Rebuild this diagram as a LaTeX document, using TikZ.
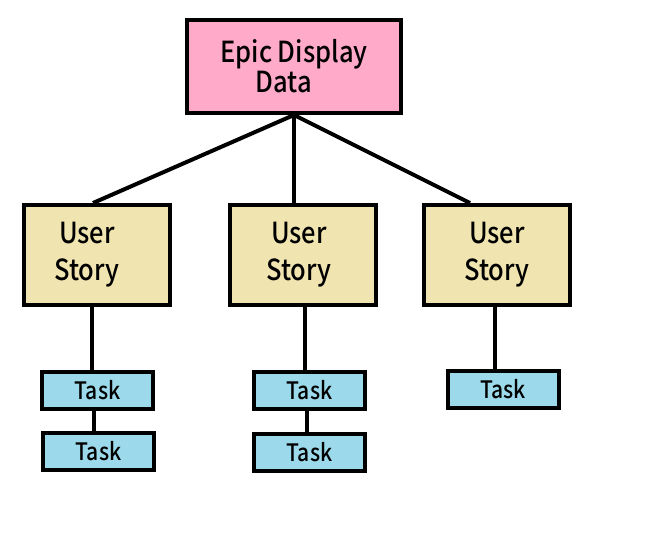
\documentclass[tikz,border=0pt]{standalone}
\usepackage{fontspec}
\usepackage{tikz}
\usetikzlibrary{positioning}
\newfontfamily\gothic[FakeStretch=0.88,UprightFont={* Medium}]{Noto Sans CJK JP}
\definecolor{epicpink}{RGB}{255,170,200}
\definecolor{storywheat}{RGB}{240,228,176}
\definecolor{taskblue}{RGB}{156,218,235}
\tikzset{
  x=1pt,y=-1pt,
  box/.style={draw,line width=4pt,shape=rectangle,inner sep=0,align=center,text=black},
  epic/.style={box,fill=epicpink,minimum width=214pt,minimum height=93pt,font=\gothic\fontsize{29}{30}\selectfont},
  story/.style={box,fill=storywheat,minimum width=146pt,minimum height=100pt,font=\gothic\fontsize{29}{37}\selectfont},
  task/.style={box,fill=taskblue,minimum width=111pt,minimum height=37pt,font=\gothic\fontsize{24}{26}\selectfont},
  link/.style={draw,line width=4pt}
}
\begin{document}
\begin{tikzpicture}
    \useasboundingbox (0,0) rectangle (647,538);
    \node (epic) [epic] at (294,66.5) {Epic Display\\\hspace*{-20pt}Data};

    \node (story1) [story] at (97,255) {\hspace*{-20pt}User\\\hspace*{-20pt}Story};
    \node (story2) [story] at (303,255) {\hspace*{-8pt}User\\\hspace*{-8pt}Story};
    \node (story3) [story] at (497,255) {User\\Story};

    \node (task1a) [task] at (97.5,390) {Task};
    \node (task1b) [task] at (98.5,451) {Task};
    \node (task2a) [task] at (309.5,390.5) {Task};
    \node (task2b) [task] at (309.5,452) {Task};
    \node (task3) [task] at (503,389) {Task};

    \path [link] (epic.south) -- ([xshift=-4pt]story1.north);
    \path [link] (epic.south) -- (epic.south |- story2.north);
    \path [link] (epic.south) -- ([xshift=-27pt]story3.north);
    \path [link] ([xshift=-5pt]story1.south) -- ([xshift=-5pt]story1.south |- task1a.north);
    \path [link] ([xshift=2pt]story2.south) -- ([xshift=2pt]story2.south |- task2a.north);
    \path [link] ([xshift=-2pt]story3.south) -- ([xshift=-2pt]story3.south |- task3.north);
    \path [link] ([xshift=-4pt]task1a.south) -- ([xshift=-4pt]task1a.south |- task1b.north);
    \path [link] ([xshift=-3pt]task2a.south) -- ([xshift=-3pt]task2a.south |- task2b.north);
\end{tikzpicture}
\end{document}
